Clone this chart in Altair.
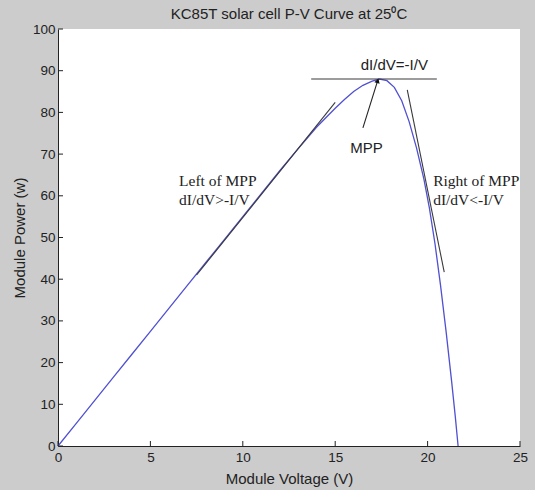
import altair as alt
import pandas as pd

# P-V curve
voltage = [0, 1, 2, 3, 4, 5, 6, 7, 8, 9, 10, 11, 12, 13, 14, 15, 15.5, 16, 16.5,
           17, 17.4, 17.8, 18.2, 18.6, 19.0, 19.4, 19.8, 20.1, 20.4, 20.7, 21.0,
           21.3, 21.5, 21.65]
power = [0, 5.5, 11.0, 16.5, 22.0, 27.5, 33.0, 38.5, 44.0, 49.5, 55.0, 60.5,
         66.0, 71.3, 76.5, 81.0, 83.1, 85.0, 86.5, 87.5, 88.0, 87.6, 86.0, 82.8,
         77.8, 71.5, 64.0, 57.0, 48.5, 38.5, 27.5, 15.5, 7.0, 0]

# tangent lines (horizontal at MPP, left, right)
seg_v1 = [13.7, 7.5, 18.9]
seg_p1 = [88.0, 41.0, 85.4]
seg_v2 = [20.5, 15.0, 20.9]
seg_p2 = [88.0, 82.4, 41.7]

# arrow tail -> tip
arrow_v = [16.5, 17.3]
arrow_p = [76.3, 87.6]

# annotations
sans_text = ["dI/dV=-I/V", "MPP"]
sans_v = [18.2, 16.7]
sans_p = [91.4, 71.5]

serif_text = ["Left of MPP", "dI/dV>-I/V", "Right of MPP", "dI/dV<-I/V"]
serif_v = [6.55, 6.55, 20.3, 20.3]
serif_p = [63.5, 59.0, 63.5, 59.0]

x_ticks = [0, 5, 10, 15, 20, 25]
y_ticks = [0, 10, 20, 30, 40, 50, 60, 70, 80, 90, 100]

W, H = 462, 417
FONT = "Liberation Sans"
INK = "#222222"

curve_df = pd.DataFrame({"V": voltage, "P": power})
seg_df = pd.DataFrame({"V": seg_v1, "P": seg_p1, "V2": seg_v2, "P2": seg_p2})
arrow_df = pd.DataFrame({"V": [arrow_v[0]], "P": [arrow_p[0]],
                         "V2": [arrow_v[1]], "P2": [arrow_p[1]]})
head_df = pd.DataFrame({"V": [arrow_v[1]], "P": [arrow_p[1]]})
sans_df = pd.DataFrame({"t": sans_text, "V": sans_v, "P": sans_p})
serif_df = pd.DataFrame({"t": serif_text, "V": serif_v, "P": serif_p})
xt_df = pd.DataFrame({"V": x_ticks})
yt_df = pd.DataFrame({"P": y_ticks})

xscale = alt.Scale(domain=[0, 25], nice=False, zero=False)
yscale = alt.Scale(domain=[0, 100], nice=False, zero=False)

x_axis = alt.Axis(values=x_ticks, ticks=False, grid=False, domainColor=INK,
                  domainWidth=1, labelFont=FONT, labelFontSize=13.5,
                  labelColor=INK, labelPadding=4, title="Module Voltage (V)",
                  titleFont=FONT, titleFontSize=15, titleFontWeight="normal",
                  titleColor=INK, titlePadding=8, labelFlush=False)
y_axis = alt.Axis(values=y_ticks, ticks=False, grid=False, domainColor=INK,
                  domainWidth=1, labelFont=FONT, labelFontSize=13.5,
                  labelColor=INK, labelPadding=3, title="Module Power (w)",
                  titleFont=FONT, titleFontSize=15, titleFontWeight="normal",
                  titleColor=INK, titlePadding=5, labelFlush=False)

curve = alt.Chart(curve_df).mark_line(color="#5050d2", strokeWidth=1.3).encode(
    x=alt.X("V:Q", scale=xscale, axis=x_axis),
    y=alt.Y("P:Q", scale=yscale, axis=y_axis),
)

segs = alt.Chart(seg_df).mark_rule(color="#3a3a3a", strokeWidth=1.1).encode(
    x="V:Q", y="P:Q", x2="V2:Q", y2="P2:Q")

arrow = alt.Chart(arrow_df).mark_rule(color="#222222", strokeWidth=1.1).encode(
    x="V:Q", y="P:Q", x2="V2:Q", y2="P2:Q")

head = alt.Chart(head_df).mark_point(shape="triangle-up", filled=True, size=30,
                                     angle=17, color="#111111", opacity=1).encode(
    x="V:Q", y="P:Q")

sans = alt.Chart(sans_df).mark_text(font=FONT, fontSize=15, color=INK,
                                    align="center", baseline="middle").encode(
    x="V:Q", y="P:Q", text="t:N")

serif = alt.Chart(serif_df).mark_text(font="Liberation Serif", fontSize=15.5,
                                      color=INK, align="left",
                                      baseline="middle").encode(
    x="V:Q", y="P:Q", text="t:N")

xt = alt.Chart(xt_df).mark_rule(color=INK, strokeWidth=1).encode(
    x="V:Q", y=alt.value(H), y2=alt.value(H - 5))
yt = alt.Chart(yt_df).mark_rule(color=INK, strokeWidth=1).encode(
    y="P:Q", x=alt.value(0), x2=alt.value(5))

chart = alt.layer(curve, segs, arrow, head, sans, serif, xt, yt).properties(
    width=W, height=H,
    title=alt.TitleParams("KC85T solar cell P-V Curve at 25⁰C", font=FONT,
                          fontSize=15, fontWeight="normal", color=INK,
                          anchor="middle", offset=0),
    autosize=alt.AutoSizeParams(type="none"),
    padding={"left": 58, "top": 29, "right": 15, "bottom": 44},
).configure(background="#cccccc").configure_view(fill="white", stroke=None)

chart.save("out.html", embed_options={"renderer": "svg", "actions": False})
